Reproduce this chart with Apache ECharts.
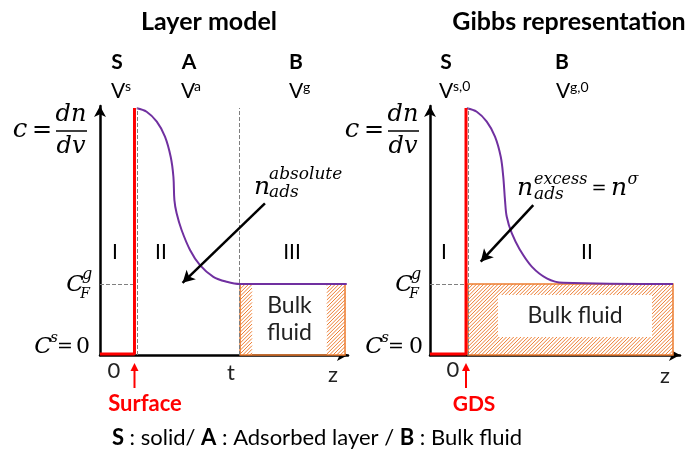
<!DOCTYPE html>
<html><head><meta charset="utf-8">
<script src="https://cdn.jsdelivr.net/npm/echarts@6/dist/echarts.min.js"></script>
<style>html,body{margin:0;padding:0;background:#fff}#c{width:689px;height:453px}</style>
</head><body><div id="c"></div>
<script>
// ---- Data (z position, concentration c) ----
const layerCurveZ = [1.48,1.88,2.29,2.62,2.85,2.96,3.00,3.09,3.29,3.63,4.03,4.57,5.11,5.65,9.95];
const layerCurveC = [9.91,9.77,9.37,8.77,7.96,7.16,6.22,5.69,5.02,4.22,3.61,3.14,2.94,2.85,2.85];
const gibbsCurveZ = [1.47,1.87,2.27,2.60,2.83,2.93,3.00,3.07,3.27,3.60,4.07,4.67,5.33,9.72];
const gibbsCurveC = [9.91,9.77,9.37,8.77,7.96,7.16,6.22,5.55,4.89,4.22,3.55,3.08,2.90,2.85];
const bulkLevel = 2.85;      // C_F^g
const solidLevel = 0.04;     // C^s = 0
const peakLevel = 9.92;
const layerSurfaceZ = 1.39, layerDashZ = 1.50, layerT = 5.63;
const layerBulk = [5.65, 9.88], layerHatchLeftEnd = 6.13, layerHatchRightStart = 9.15;
const gibbsSurfaceZ = 1.44, gibbsDashZ = 1.52;
const gibbsBulk = [1.52, 9.72], gibbsBoxZ = [2.72, 8.88], gibbsBoxC = [0.72, 2.41];
const layerArrow = [[6.65, 6.09], [3.33, 2.90]];
const gibbsArrow = [[4.13, 6.02], [2.03, 3.75]];
const regionLabelsLayer = ['I', 'II', 'III'];
const regionLabelsGibbs = ['I', 'II'];
// rectangles [zStart, cStart, zEnd, cEnd]
const layerHatch = [[layerBulk[0], 0, layerHatchLeftEnd, bulkLevel], [layerHatchRightStart, 0, layerBulk[1], bulkLevel]];
const layerOutline = [[layerBulk[0], 0, layerBulk[1], bulkLevel]];
const layerTextBox = [[layerHatchLeftEnd, 0, layerHatchRightStart, bulkLevel]];
const gibbsHatch = [[gibbsBulk[0], 0, gibbsBulk[1], bulkLevel]];
const gibbsTextBox = [[gibbsBoxZ[0], gibbsBoxC[0], gibbsBoxZ[1], gibbsBoxC[1]]];

const ORANGE = '#ED7D31', PURPLE = '#7030A0', RED = '#FF0000', GREY = '#7f7f7f';
const SANS = 'Lato', MATH = 'DejaVu Serif';

function rectOf(api) {
  const a = api.coord([api.value(0), api.value(3)]);
  const b = api.coord([api.value(2), api.value(1)]);
  return { L: a[0], T: a[1], R: b[0], B: b[1] };
}
function hatchRender(params, api) {
  const r = rectOf(api);
  const children = [{ type: 'rect', shape: { x: r.L, y: r.T, width: r.R - r.L, height: r.B - r.T }, style: { fill: '#fff' } }];
  for (let k = r.L + r.T + 1.5; k < r.R + r.B; k += 3.6) {
    const xs = Math.max(r.L, k - r.B), xe = Math.min(r.R, k - r.T);
    if (xe > xs) children.push({ type: 'line', shape: { x1: xs, y1: k - xs, x2: xe, y2: k - xe },
      style: { stroke: ORANGE, lineWidth: 1 } });
  }
  return { type: 'group', children: children };
}
function boxRender(fill, stroke, text) {
  return function (params, api) {
    const r = rectOf(api);
    const children = [{ type: 'rect', shape: { x: r.L, y: r.T, width: r.R - r.L, height: r.B - r.T },
      style: { fill: fill, stroke: stroke, lineWidth: stroke ? 1.5 : 0 } }];
    if (text) children.push({ type: 'text', x: (r.L + r.R) / 2, y: (r.T + r.B) / 2,
      style: { text: text, fontFamily: SANS, fontSize: 23, fill: '#222', lineHeight: 27,
        align: 'center', verticalAlign: 'middle', textAlign: 'center', textVerticalAlign: 'middle' } });
    return { type: 'group', children: children };
  };
}

function ax(gi) {
  return { type: 'value', gridIndex: gi, min: 0, max: 10,
    axisLine: { show: true, onZero: false, symbol: ['none', 'arrow'], symbolSize: [9, 11],
      lineStyle: { color: '#000', width: 2.5 } },
    axisTick: { show: false }, axisLabel: { show: false }, splitLine: { show: false } };
}
const zip = (a, b) => a.map((v, i) => [v, b[i]]);
const dashed = { type: 'dashed', color: GREY, width: 1 };

function T(x, y, text, size, o) {
  o = o || {};
  const al = o.align || 'center';
  return { type: 'text', x: x, y: y, z: 100, style: {
    text: text, fontSize: size, fontFamily: o.family || SANS,
    fontWeight: o.bold ? 'bold' : 'normal', fontStyle: o.italic ? 'italic' : 'normal',
    fill: o.color || '#000', textAlign: al, textVerticalAlign: 'middle', align: al, verticalAlign: 'middle',
    rich: o.rich } };
}
function L(x1, y1, x2, y2, w, color) {
  return { type: 'line', z: 100, shape: { x1, y1, x2, y2 }, style: { stroke: color || '#000', lineWidth: w } };
}
function upArrow(x, yBottom, yTip, color) {
  return [L(x, yBottom, x, yTip + 6, 2, color),
    { type: 'polygon', z: 100, shape: { points: [[x, yTip], [x - 4, yTip + 8], [x + 4, yTip + 8]] }, style: { fill: color } }];
}
const mi = { family: MATH, italic: true };

const graphics = [
  T(209, 22, 'Layer model', 25, { bold: true }),
  T(569, 22, 'Gibbs representation', 25, { bold: true }),
  T(117, 62, 'S', 21, { bold: true }), T(189, 62, 'A', 21, { bold: true }), T(296, 62, 'B', 21, { bold: true }),
  T(446, 62, 'S', 21, { bold: true }), T(562, 62, 'B', 21, { bold: true }),
  T(111, 91, 'V', 21, { align: 'left' }), T(125, 86, 's', 14, { align: 'left' }),
  T(181, 91, 'V', 21, { align: 'left' }), T(194, 86, 'a', 14, { align: 'left' }),
  T(289, 91, 'V', 21, { align: 'left' }), T(303, 87, 'g', 14, { align: 'left' }),
  T(439, 91, 'V', 21, { align: 'left' }), T(453, 86, 's,0', 14, { align: 'left' }),
  T(556, 91, 'V', 21, { align: 'left' }), T(570, 87, 'g,0', 14, { align: 'left' }),
  // c = dn/dv
  T(20, 130, 'c', 26, mi), T(42, 131, '=', 24, { family: MATH }),
  T(71, 115, 'dn', 24, mi), T(71, 147, 'dv', 24, mi),
  L(56, 131, 87, 131, 1.5),
  T(352, 130, 'c', 26, mi), T(374, 131, '=', 24, { family: MATH }),
  T(403, 115, 'dn', 24, mi), T(403, 147, 'dv', 24, mi),
  L(388, 131, 419, 131, 1.5),
  // C_F^g
  T(75, 285, 'C', 23, mi), T(87, 275, 'g', 16, mi), T(85, 294, 'F', 14, mi),
  T(404, 285, 'C', 23, mi), T(416, 275, 'g', 16, mi), T(414, 294, 'F', 14, mi),
  // C^s = 0
  T(43, 347, 'C', 23, mi), T(54, 338, 's', 15, mi),
  T(65, 347, '=', 19, { family: MATH }), T(83, 347, '0', 22, { family: MATH }),
  T(374, 347, 'C', 23, mi), T(385, 338, 's', 15, mi),
  T(396, 347, '=', 19, { family: MATH }), T(416, 347, '0', 22, { family: MATH }),
  // n_ads^absolute
  T(262, 187, 'n', 25, mi),
  T(269, 175, 'absolute', 17, Object.assign({ align: 'left' }, mi)),
  T(269, 193, 'ads', 17, Object.assign({ align: 'left' }, mi)),
  // n_ads^excess = n^sigma
  T(525, 188, 'n', 25, mi),
  T(534, 180, 'excess', 16, Object.assign({ align: 'left' }, mi)),
  T(534, 195, 'ads', 17, Object.assign({ align: 'left' }, mi)),
  T(599, 189, '=', 18, { family: MATH }),
  T(619, 188, 'n', 25, mi),
  T(633, 180, 'σ', 16, mi),
  // region labels
  T(115, 252, regionLabelsLayer[0], 21), T(161, 252, regionLabelsLayer[1], 21), T(292, 252, regionLabelsLayer[2], 21),
  T(444, 252, regionLabelsGibbs[0], 21), T(587, 252, regionLabelsGibbs[1], 21),
  // axis labels
  T(114, 371, '0', 22, { color: '#222' }), T(231, 373, 't', 22, { color: '#222' }), T(333, 375, 'z', 22, { color: '#222' }),
  T(453, 370, '0', 22, { color: '#222' }), T(665, 376, 'z', 22, { color: '#222' }),
  T(145, 404, 'Surface', 22, { bold: true, color: RED }),
  T(474, 404, 'GDS', 21, { bold: true, color: RED }),
  T(317, 438, '{b|S} : solid/ {b|A} : Adsorbed layer / {b|B} : Bulk fluid', 22,
    { rich: { b: { fontWeight: 'bold', fontSize: 22, fontFamily: SANS } } }),
  ...upArrow(134.5, 388, 363, RED),
  ...upArrow(466, 388, 363, RED)
];

const option = {
  animation: false,
  backgroundColor: '#fff',
  grid: [
    { left: 100, top: 106, width: 248, height: 249 },
    { left: 430, top: 106, width: 250, height: 249 }
  ],
  xAxis: [ax(0), ax(1)],
  yAxis: [ax(0), ax(1)],
  graphic: graphics,
  series: [
    // ---- Layer model ----
    { type: 'custom', xAxisIndex: 0, yAxisIndex: 0, z: 2, silent: true, renderItem: hatchRender, data: layerHatch },
    { type: 'custom', xAxisIndex: 0, yAxisIndex: 0, z: 3, silent: true,
      renderItem: boxRender('rgba(0,0,0,0)', ORANGE, null), data: layerOutline },
    { type: 'custom', xAxisIndex: 0, yAxisIndex: 0, z: 3, silent: true,
      renderItem: boxRender('rgba(0,0,0,0)', null, 'Bulk\nfluid'), data: layerTextBox },
    { type: 'line', xAxisIndex: 0, yAxisIndex: 0, z: 4, symbol: 'none', smooth: 0.35, silent: true,
      data: zip(layerCurveZ, layerCurveC), lineStyle: { color: PURPLE, width: 2 } },
    { type: 'line', xAxisIndex: 0, yAxisIndex: 0, z: 5, symbol: 'none', silent: true,
      data: [[0, solidLevel], [layerSurfaceZ, solidLevel], [layerSurfaceZ, peakLevel]],
      lineStyle: { color: RED, width: 3 },
      markLine: { silent: true, symbol: ['none', 'none'], label: { show: false }, animation: false, data: [
        [{ coord: [layerDashZ, 0], lineStyle: dashed }, { coord: [layerDashZ, peakLevel] }],
        [{ coord: [0, bulkLevel], lineStyle: dashed }, { coord: [layerSurfaceZ, bulkLevel] }],
        [{ coord: [layerT, 0], lineStyle: dashed }, { coord: [layerT, peakLevel] }],
        [{ coord: layerArrow[0], symbol: 'none', lineStyle: { type: 'solid', color: '#000', width: 2.5 } },
         { coord: layerArrow[1], symbol: 'arrow', symbolSize: [10, 12] }]
      ] } },
    // ---- Gibbs representation ----
    { type: 'custom', xAxisIndex: 1, yAxisIndex: 1, z: 2, silent: true, renderItem: hatchRender, data: gibbsHatch },
    { type: 'custom', xAxisIndex: 1, yAxisIndex: 1, z: 3, silent: true,
      renderItem: boxRender('rgba(0,0,0,0)', ORANGE, null), data: gibbsHatch },
    { type: 'custom', xAxisIndex: 1, yAxisIndex: 1, z: 3, silent: true,
      renderItem: boxRender('#fff', null, 'Bulk fluid'), data: gibbsTextBox },
    { type: 'line', xAxisIndex: 1, yAxisIndex: 1, z: 4, symbol: 'none', smooth: 0.35, silent: true,
      data: zip(gibbsCurveZ, gibbsCurveC), lineStyle: { color: PURPLE, width: 2 } },
    { type: 'line', xAxisIndex: 1, yAxisIndex: 1, z: 5, symbol: 'none', silent: true,
      data: [[0, solidLevel], [gibbsSurfaceZ, solidLevel], [gibbsSurfaceZ, peakLevel]],
      lineStyle: { color: RED, width: 3 },
      markLine: { silent: true, symbol: ['none', 'none'], label: { show: false }, animation: false, data: [
        [{ coord: [gibbsDashZ, 0], lineStyle: dashed }, { coord: [gibbsDashZ, peakLevel] }],
        [{ coord: [0, bulkLevel], lineStyle: dashed }, { coord: [gibbsSurfaceZ, bulkLevel] }],
        [{ coord: gibbsArrow[0], symbol: 'none', lineStyle: { type: 'solid', color: '#000', width: 2.5 } },
         { coord: gibbsArrow[1], symbol: 'arrow', symbolSize: [10, 12] }]
      ] } }
  ]
};
echarts.init(document.getElementById('c'), null, { renderer: 'canvas' }).setOption(option);
</script></body></html>
